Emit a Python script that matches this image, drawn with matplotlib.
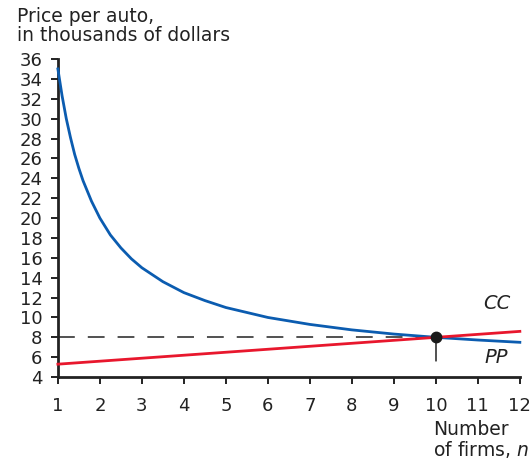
import matplotlib.pyplot as plt

plt.rcParams['font.family'] = ['DejaVu Sans']
plt.rcParams['mathtext.fontset'] = 'dejavusans'

# CC curve (blue)
cc_n = [1, 1.1, 1.2, 1.3, 1.4, 1.5, 1.6, 1.8, 2, 2.25, 2.5, 2.75, 3, 3.5, 4,
        4.5, 5, 5.5, 6, 7, 8, 9, 10, 11, 12]
cc_price = [35, 32.3, 30, 28.1, 26.4, 25, 23.75, 21.7, 20, 18.3, 17, 15.9, 15,
            13.6, 12.5, 11.7, 11, 10.5, 10, 9.3, 8.75, 8.33, 8, 7.73, 7.5]

# PP line (red)
pp_n = [1, 12]
pp_price = [5.3, 8.6]

# equilibrium
eq_n = 10
eq_price = 8

y_ticks = list(range(4, 37, 2))
x_ticks = list(range(1, 13))

fig = plt.figure(figsize=(5.31, 4.61), dpi=100)
ax = fig.add_axes([0.109, 0.182, 0.870, 0.690])

ax.plot(cc_n, cc_price, color='#0b5cb0', lw=2.0, zorder=3, clip_on=False)
ax.plot(pp_n, pp_price, color='#e8172d', lw=2.0, zorder=3, clip_on=False)
# dashed guides to the equilibrium point
ax.plot([1, eq_n], [eq_price, eq_price], color='#222222', lw=1.1,
        dashes=(11, 8.5), zorder=2)
ax.plot([eq_n, eq_n], [eq_price, 4], color='#222222', lw=1.1,
        dashes=(16, 12), zorder=2)
ax.plot([eq_n], [eq_price], 'o', color='#1a1a1a', ms=7.5, zorder=4)

ax.set_xlim(1, 12)
ax.set_ylim(4, 36)
ax.set_xticks(x_ticks)
ax.set_yticks(y_ticks)
ax.tick_params(labelsize=13, colors='#222222', width=1.4, length=5, pad=6)
ax.tick_params(axis='x', pad=9)
for side in ['top', 'right']:
    ax.spines[side].set_visible(False)
for side in ['left', 'bottom']:
    ax.spines[side].set_linewidth(2.0)
    ax.spines[side].set_color('#222222')

ax.text(11.12, 11.4, 'CC', fontsize=14, style='italic', ha='left', va='center',
        color='#222222')
ax.text(11.15, 6.0, 'PP', fontsize=14, style='italic', ha='left', va='center',
        color='#222222')

fig.text(0.032, 0.985, 'Price per auto,\nin thousands of dollars', fontsize=13.5,
         ha='left', va='top', color='#222222', linespacing=1.0)
fig.text(0.815, 0.088, 'Number\nof firms, $n$', fontsize=13.5, ha='left',
         va='top', color='#222222', linespacing=1.0)

fig.savefig('out.png', dpi=100)
